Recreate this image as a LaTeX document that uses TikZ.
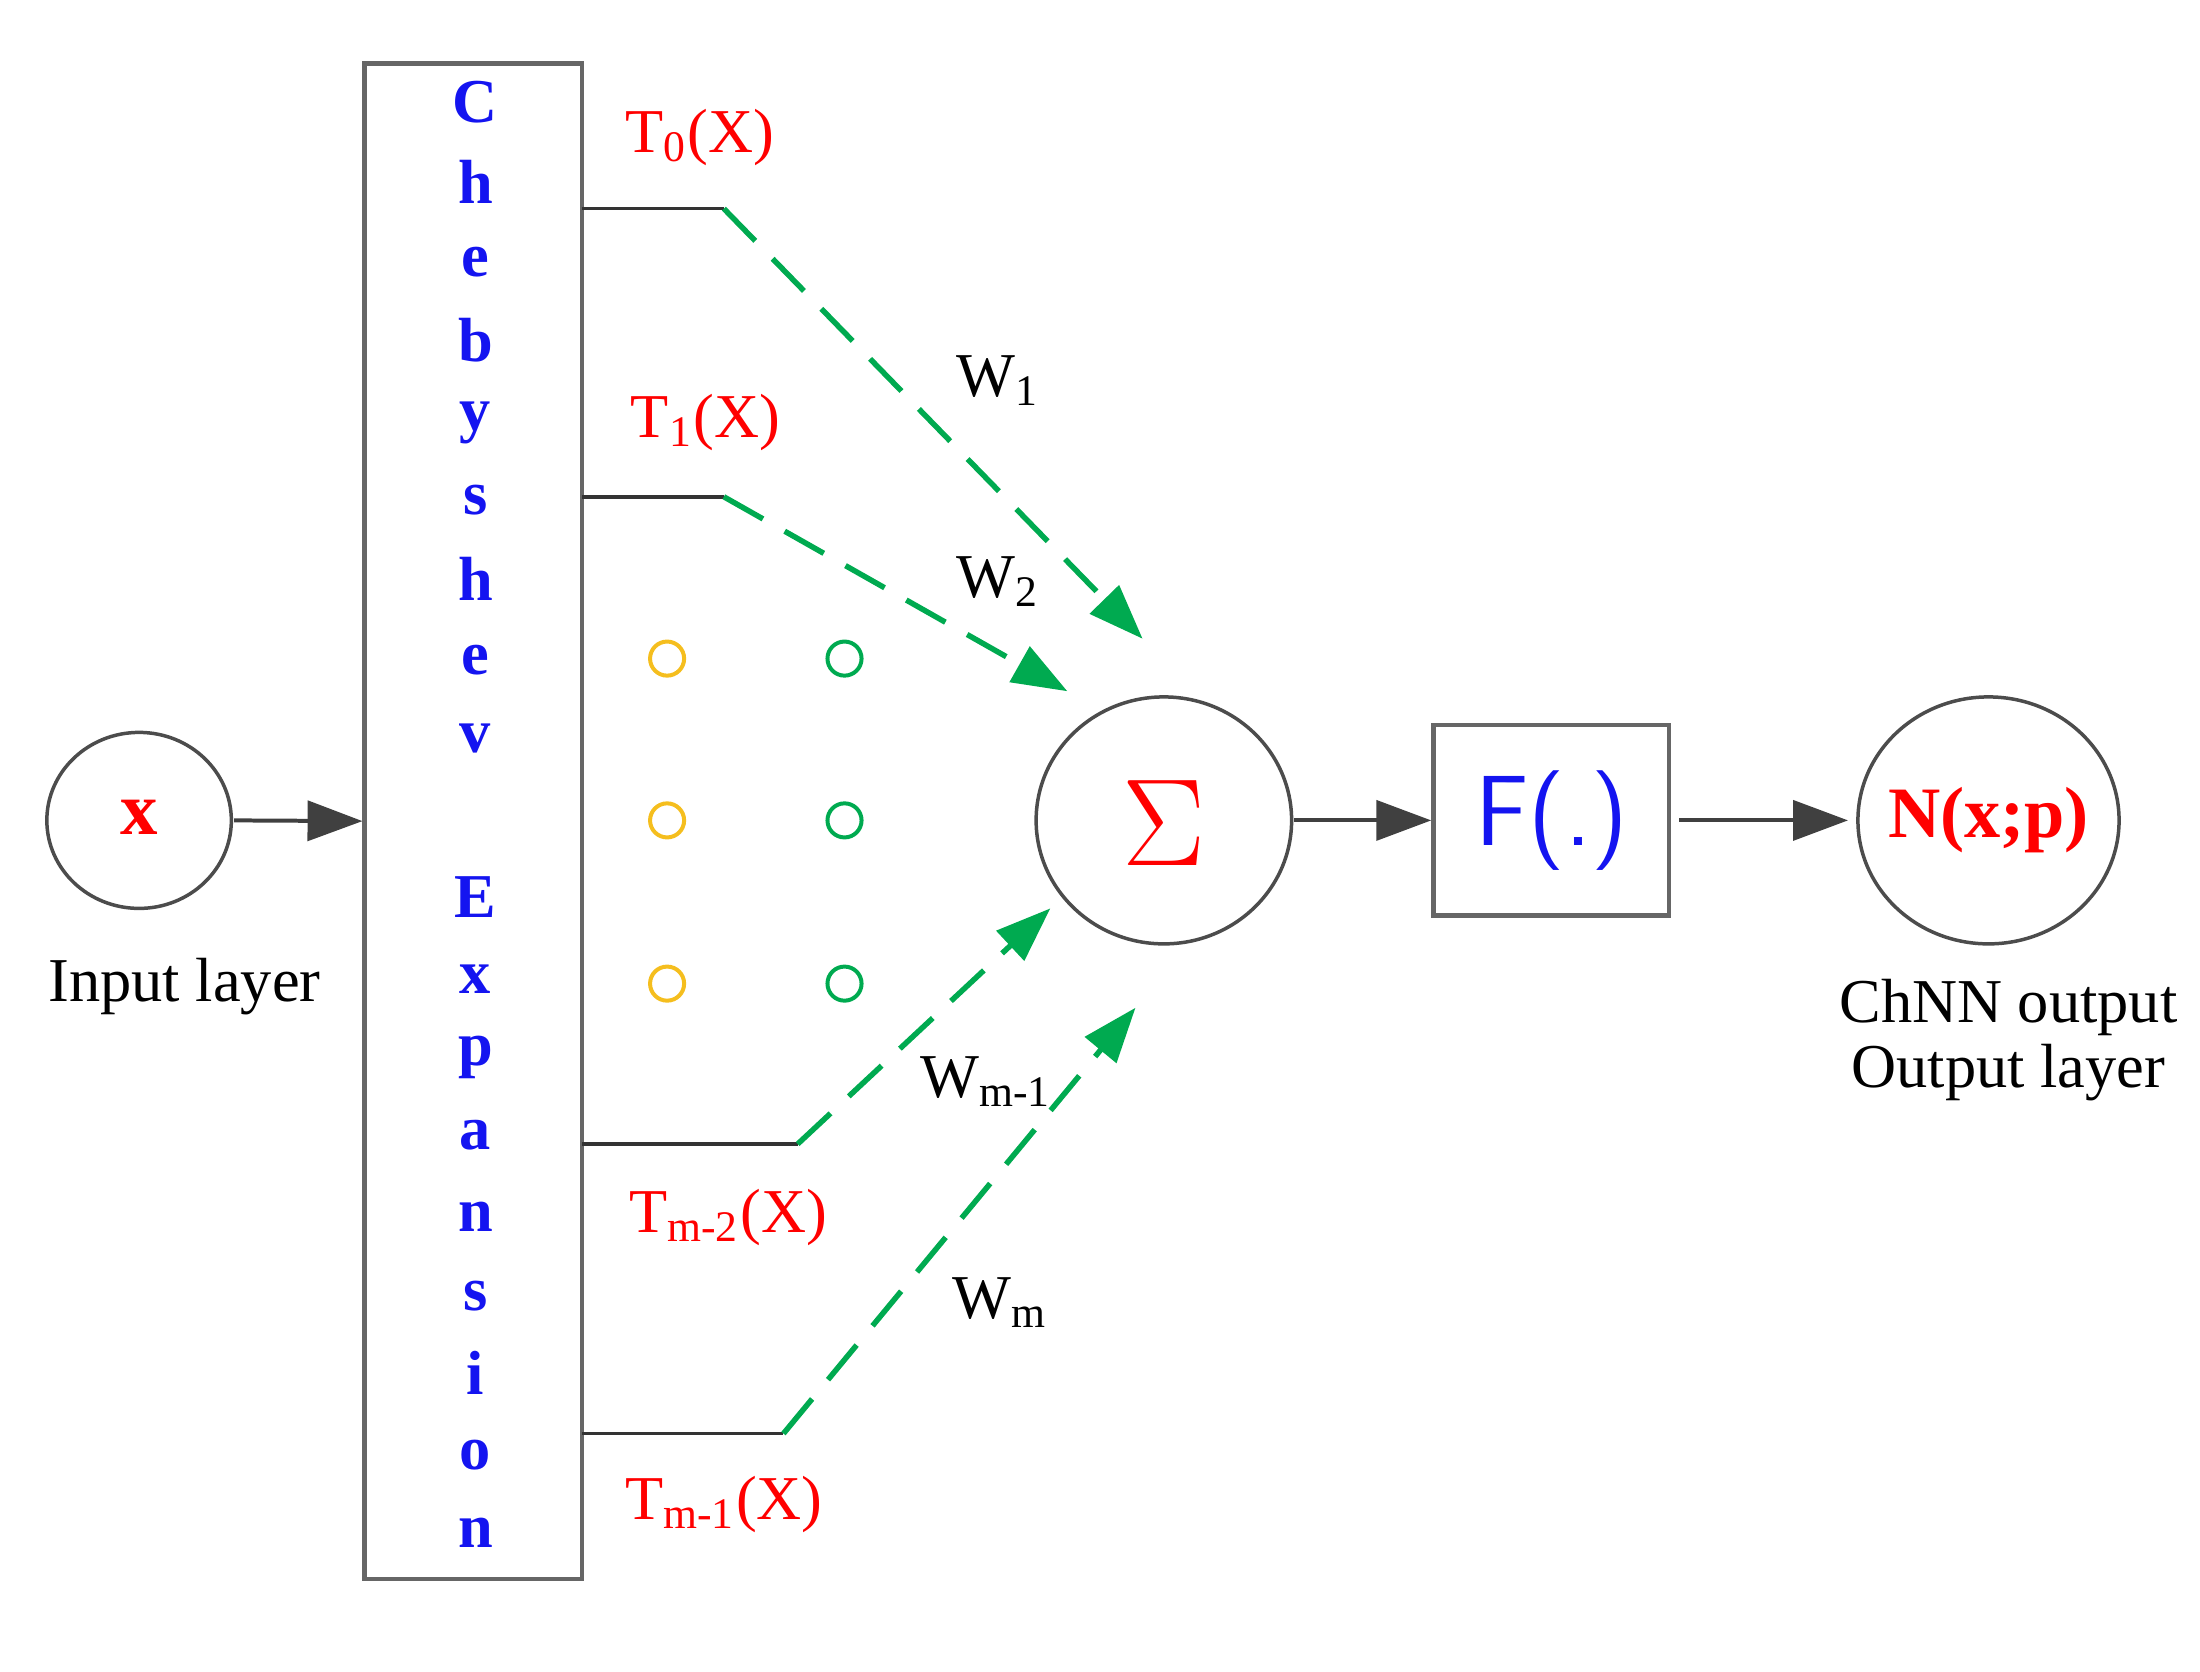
\documentclass[tikz,border=0pt]{standalone}
\usepackage{fontspec}
\setmainfont{Liberation Serif}
\usetikzlibrary{arrows.meta}
\definecolor{dgreen}{RGB}{0,170,80}
\definecolor{dorange}{RGB}{245,190,30}
\definecolor{cblue}{RGB}{20,20,240}
\begin{document}
\begin{tikzpicture}[x=0.01cm,y=-0.01cm,
  conn/.style={draw=black!75,line width=0.8pt,-{Triangle[length=11pt,width=8pt]}},
  wline/.style={draw=black!80,line width=0.7pt},
  warr/.style={draw=dgreen,line width=1.1pt,dash pattern=on 9pt off 5pt,-{Triangle[length=11pt,width=8pt]}},
  lab/.style={text=red,font=\fontsize{12.5}{15}\selectfont},
  wlab/.style={font=\fontsize{12.5}{15}\selectfont},
  let/.style={text=cblue,font=\bfseries\fontsize{12.5}{14}\selectfont},
  dot/.style={circle,draw,line width=0.8pt,minimum size=0.24cm,inner sep=0pt}]
\useasboundingbox (0,0) rectangle (1550,1178);
\node[circle,minimum size=1.24cm,inner sep=0pt] (x) at (98,578) {};
\draw[black!70,line width=0.7pt] (98,578) ellipse (65 and 62);
\node[text=red,font=\bfseries\fontsize{15}{17}\selectfont] at (98,576) {x};
\node[font=\fontsize{12.5}{15}\selectfont] (il) at (130,695) {Input layer};
\node[draw=black!60,line width=0.9pt,minimum width=1.53cm,minimum height=10.67cm,inner sep=0pt] (box) at (333.5,578.5) {};
\coordinate (xe) at (165,578);
\draw[conn] (xe) -- (box.west);
\foreach \c/\y in {C/72,h/128,e/185,b/240,y/298,s/352,h/408,e/465,v/520,E/632,x/690,p/745,a/800,n/857,s/913,i/967,o/1025,n/1080}
  \node[let] at (335,\y) {\c};
\draw[black!70,line width=0.7pt] (820,578) ellipse (90 and 87);
\node (sum) at (820,578) [minimum width=1.8cm,minimum height=1.74cm] {};
\node[text=red,font=\fontsize{30}{32}\selectfont] at (820,580) {$\Sigma$};
\node[draw=black!60,line width=0.9pt,minimum width=1.66cm,minimum height=1.34cm,inner sep=0pt,text=cblue,font=\sffamily\fontsize{20}{22}\selectfont] (F) at (1093,578) {F(.)};
\draw[black!70,line width=0.7pt] (1401,578) ellipse (92 and 87);
\node (N) at (1401,578) [minimum width=1.84cm,minimum height=1.74cm] {};
\node[text=red,font=\bfseries\fontsize{14.5}{17}\selectfont] at (1401,578) {N(x;p)};
\node[font=\fontsize{12.5}{15}\selectfont,align=center] (ol) at (1415,733) {ChNN output\\[-2pt]Output layer};
\coordinate (s1) at (912,578);\coordinate (f1) at (1183,578);\coordinate (n1) at (1302,578);
\draw[conn] (s1) -- (F.west);
\draw[conn] (f1) -- (n1);
\coordinate (a0) at (410,147);\coordinate (b0) at (510,147);\coordinate (e0) at (805,450);
\coordinate (a1) at (410,350);\coordinate (b1) at (510,350);\coordinate (e1) at (752,487);
\coordinate (a2) at (410,806);\coordinate (b2) at (562,806);\coordinate (e2) at (740,640);
\coordinate (a3) at (410,1010);\coordinate (b3) at (552,1010);\coordinate (e3) at (800,710);
\foreach \i in {0,1,2,3}{\draw[wline] (a\i) -- (b\i); \draw[warr] (b\i) -- (e\i);}
\node[lab] at (493,97) {T\textsubscript{0}(X)};
\node[lab] at (497,298) {T\textsubscript{1}(X)};
\node[lab] at (513,858) {T\textsubscript{m-2}(X)};
\node[lab] at (510,1060) {T\textsubscript{m-1}(X)};
\node[wlab] at (703,268) {W\textsubscript{1}};
\node[wlab] at (703,410) {W\textsubscript{2}};
\node[wlab] at (695,762) {W\textsubscript{m-1}};
\node[wlab] at (705,918) {W\textsubscript{m}};
\foreach \y in {464,578,693}{
  \node[dot,draw=dorange] at (470,\y) {};
  \node[dot,draw=dgreen] at (595,\y) {};}
\end{tikzpicture}
\end{document}
